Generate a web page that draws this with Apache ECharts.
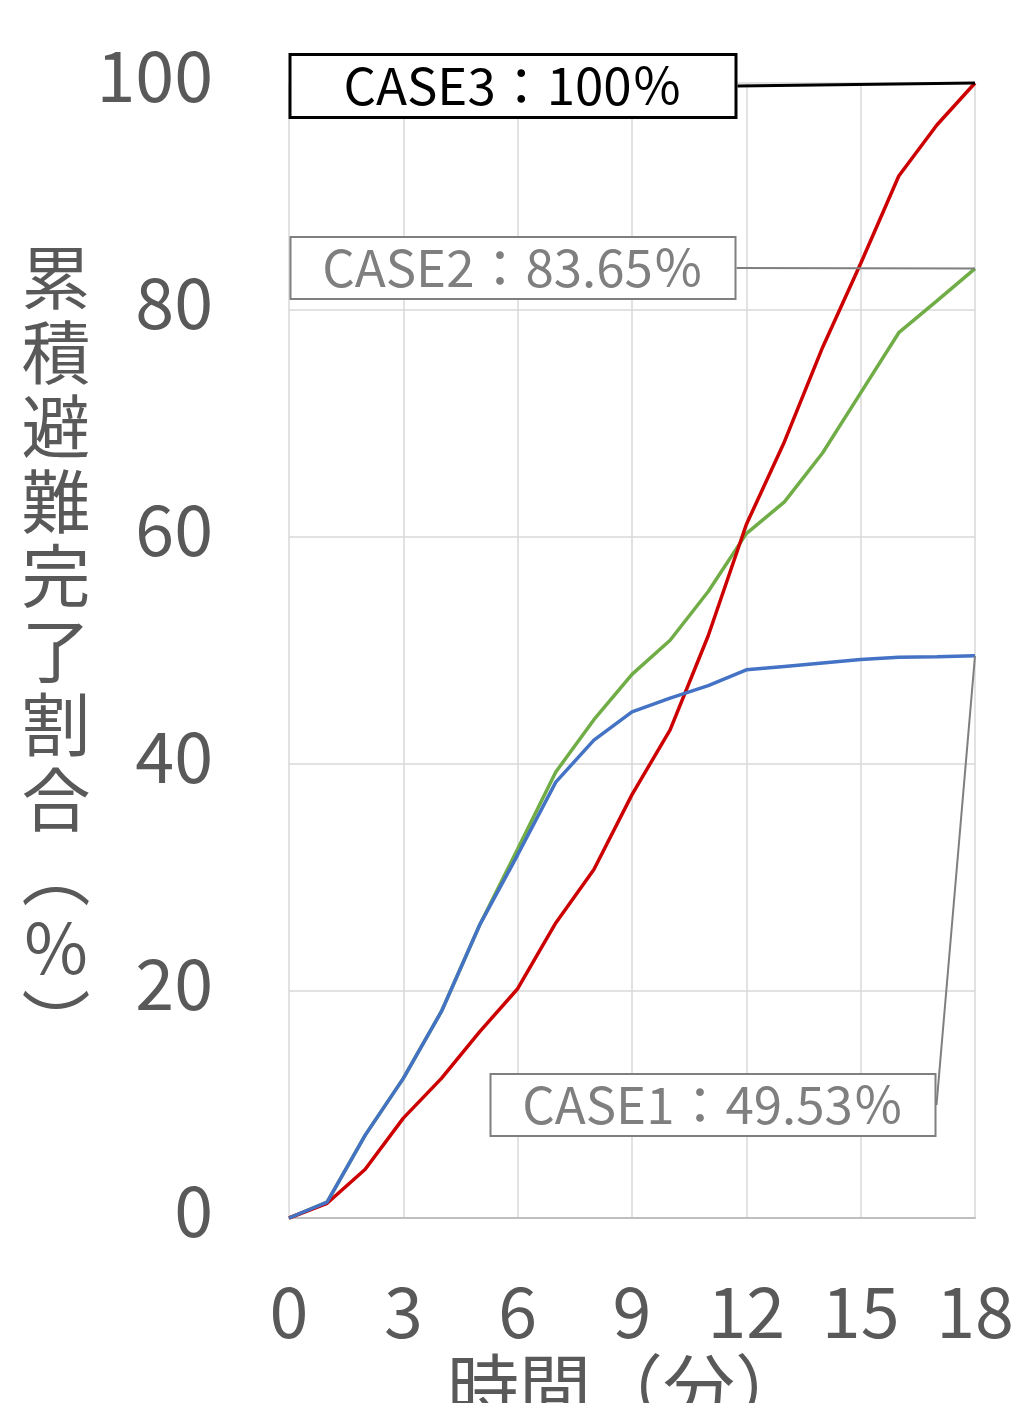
<!DOCTYPE html>
<html>
<head>
<meta charset="utf-8">
<script src="https://cdn.jsdelivr.net/npm/echarts@6/dist/echarts.min.js"></script>
<style>
  html, body { margin: 0; padding: 0; background: #ffffff; }
  #chart { width: 1024px; height: 1403px; }
</style>
</head>
<body>
<div id="chart"></div>
<script>
// Elapsed time (minutes) and cumulative evacuation completion (%) per case
const minutes = [0, 1, 2, 3, 4, 5, 6, 7, 8, 9, 10, 11, 12, 13, 14, 15, 16, 17, 18];
const case1 = [0, 1.4, 7.3, 12.3, 18.2, 25.8, 32.0, 38.4, 42.1, 44.6, 45.8, 46.9, 48.3, 48.6, 48.9, 49.2, 49.4, 49.45, 49.53];
const case2 = [0, 1.4, 7.3, 12.3, 18.2, 25.8, 32.5, 39.3, 43.9, 47.9, 50.9, 55.2, 60.3, 63.1, 67.4, 72.7, 78.0, 80.8, 83.65];
const case3 = [0, 1.3, 4.3, 8.8, 12.3, 16.4, 20.2, 26.0, 30.7, 37.3, 43.0, 51.3, 61.1, 68.4, 76.7, 84.1, 91.8, 96.3, 100];
const caseNames = ['CASE1', 'CASE2', 'CASE3'];
const xTicks = [0, 3, 6, 9, 12, 15, 18];
const yTicks = [0, 20, 40, 60, 80, 100];

const FONT = '"Noto Sans CJK JP", "Noto Sans", sans-serif';
const last = minutes.length - 1;

// Builds [x, y] pairs; the final point carries the boxed callout
function buildData(values, name, textColor, borderWidth) {
  return values.map((v, i) => {
    if (i !== last) return [minutes[i], v];
    return {
      value: [minutes[i], v],
      label: {
        show: true,
        opacity: 1,
        formatter: '{t|' + name + '：' + v + '％}',
        backgroundColor: '#ffffff',
        borderColor: textColor,
        borderWidth: borderWidth,
        padding: [0, 0],
        rich: {
          t: {
            width: 443,
            height: 60,
            lineHeight: 60,
            align: 'center',
            fontSize: 51,
            fontFamily: FONT,
            color: textColor
          }
        }
      }
    };
  });
}

// Callout centres (px) for each case
const calloutPos = {
  CASE1: [713, 1105],
  CASE2: [513, 268],
  CASE3: [513, 86]
};

function makeSeries(name, values, color, textColor, borderWidth, leaderWidth) {
  return {
    name: name,
    type: 'line',
    data: buildData(values, name, textColor, borderWidth),
    showSymbol: true,
    symbol: 'circle',
    symbolSize: 0.01,
    clip: false,
    lineStyle: { color: color, width: 3.5 },
    itemStyle: { color: color },
    label: { show: false },
    labelLine: {
      show: true,
      lineStyle: { color: textColor, width: leaderWidth }
    },
    labelLayout: function (params) {
      if (params.dataIndex !== last) return {};
      const p = calloutPos[name];
      return { x: p[0], y: p[1], align: 'center', verticalAlign: 'middle' };
    },
    emphasis: { disabled: true },
    animation: false
  };
}

const chart = echarts.init(document.getElementById('chart'), null, { renderer: 'canvas' });

chart.setOption({
  backgroundColor: '#ffffff',
  animation: false,
  grid: { left: 289, right: 49, top: 83, bottom: 185, containLabel: false, outerBoundsMode: 'none' },
  xAxis: {
    type: 'value',
    min: xTicks[0],
    max: xTicks[xTicks.length - 1],
    interval: 3,
    name: '時間（分）',
    nameLocation: 'middle',
    nameGap: 122,
    nameTextStyle: { fontSize: 72, color: '#595959', fontFamily: FONT, padding: [0, 10, 0, 0] },
    axisLine: { show: true, lineStyle: { color: '#bfbfbf', width: 2 } },
    axisTick: { show: false },
    axisLabel: { fontSize: 70, color: '#595959', fontFamily: FONT, margin: 58 },
    splitLine: { show: true, lineStyle: { color: '#d9d9d9', width: 1.5 } }
  },
  yAxis: {
    type: 'value',
    min: yTicks[0],
    max: yTicks[yTicks.length - 1],
    interval: 20,
    name: '累\n積\n避\n難\n完\n了\n割\n合\n︵\n％\n︶',
    nameLocation: 'middle',
    nameRotate: 0,
    nameGap: 198,
    nameTextStyle: { fontSize: 69, lineHeight: 74.5, color: '#595959', fontFamily: FONT },
    axisLine: { show: false },
    axisTick: { show: false },
    axisLabel: {
      fontSize: 70, color: '#595959', fontFamily: FONT, margin: 76,
      verticalAlign: 'bottom', lineHeight: 16
    },
    splitLine: { show: true, lineStyle: { color: '#d9d9d9', width: 1.5 } }
  },
  series: [
    makeSeries(caseNames[1], case2, '#70ad47', '#7f7f7f', 2, 2),
    makeSeries(caseNames[2], case3, '#cc0000', '#000000', 3, 3),
    makeSeries(caseNames[0], case1, '#4472c4', '#7f7f7f', 2, 2)
  ]
});
</script>
</body>
</html>
